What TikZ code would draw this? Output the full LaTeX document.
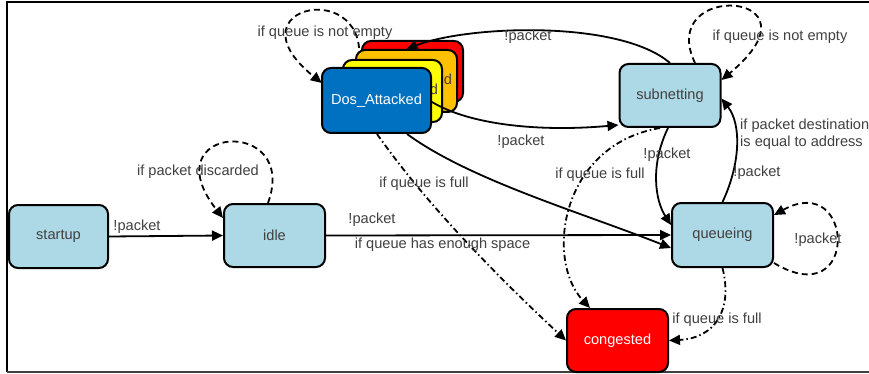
\documentclass[tikz,border=0pt]{standalone}
\usepackage{fontspec}
\setmainfont{Liberation Sans}
\usetikzlibrary{arrows.meta}
\definecolor{statefill}{HTML}{ADD8E6}
\definecolor{dosblue}{HTML}{0070C0}
\definecolor{stackorange}{HTML}{FFC000}
\definecolor{stackyellow}{HTML}{FFFF00}
\definecolor{alarmred}{HTML}{FF0000}
\definecolor{textgray}{HTML}{404040}
\definecolor{framegray}{HTML}{404040}
\tikzset{
  lblfont/.style={font=\fontsize{14.6}{16.5}\selectfont},
  state/.style={draw=black, line width=2pt, rounded corners=9pt, fill=statefill,
    text=textgray, lblfont, inner sep=0pt},
  lbl/.style={text=textgray, lblfont, inner sep=0pt},
  tip/.style={-{Triangle[length=11pt,width=10pt]}},
  solidedge/.style={line width=1.8pt, tip},
  dashedge/.style={line width=1.8pt, tip, dash pattern=on 6pt off 4pt},
  dotedge/.style={line width=1.8pt, tip, dash pattern=on 6pt off 3pt on 1.5pt off 3pt},
}
\begin{document}
\begin{tikzpicture}[x=1pt,y=-1pt]
\useasboundingbox (0,0) rectangle (869,374);
\fill[white] (0,0) rectangle (869,374);

% frame lines
\draw[line width=2.5pt, black] (880,2) -- (7,2) -- (7,372);
\draw[line width=2.5pt, framegray] (7,372) -- (880,372);

% front state of the stack (placed first so its self loop can hide behind the stack)
\path (376.5,100.5) node[minimum width=109pt, minimum height=65pt] (dosref) {};
\draw[dashedge] ([xshift=-18.5pt]dosref.north) .. controls (375,-25) and (225,5) .. ([yshift=17.5pt]dosref.west);

% stacked states behind Dos_Attacked
\node[state, fill=alarmred, minimum width=101pt, minimum height=61pt] (stackred) at (412.5,71.5) {};
\node[state, fill=stackorange, minimum width=101pt, minimum height=62pt] (stackorange) at (406.5,81) {Dos\_Attacked};
\node[state, fill=stackyellow, minimum width=99pt, minimum height=62pt] (stackyellow) at (392.5,91) {Dos\_Attacked};
\node[state, fill=dosblue, text=white, minimum width=109pt, minimum height=65pt] (dos) at (376.5,100.5) {Dos\_Attacked};

% remaining states
\node[state, minimum width=99pt, minimum height=63pt] (startup) at (58.5,236.5) {startup};
\node[state, minimum width=101pt, minimum height=63pt] (idle) at (274.5,235.5) {idle};
\node[state, minimum width=101pt, minimum height=63pt] (subnet) at (670,95.5) {subnetting};
\node[state, minimum width=101pt, minimum height=64pt] (queue) at (722.5,235) {queueing};
\node[state, fill=alarmred, text=white, minimum width=101pt, minimum height=63pt] (cong) at (617.5,340.5) {congested};

% transitions
\draw[solidedge] (startup.east) -- (idle.west);
\draw[dashedge] ([xshift=-6.5pt]idle.north) .. controls (300,115) and (150,125) .. ([yshift=17.5pt]idle.west);
\draw[solidedge] (idle.east) -- (queue.west);
\draw[solidedge] (subnet.north) .. controls (620,20) and (470,25) .. (stackorange.north);
\draw[solidedge] ([yshift=-1.5pt]dos.east) .. controls (470,125) and (540,132) .. ([yshift=-29.5pt]subnet.west);
\draw[solidedge] ([xshift=30.5pt]dos.south) .. controls (470,180) and (580,212) .. ([yshift=-13pt]queue.west);
\draw[dotedge] ([xshift=0.5pt]dos.south) .. controls (420,195) and (480,260) .. (cong.west);
\draw[dotedge] ([xshift=-10pt]subnet.south) .. controls (560,145) and (545,260) .. ([xshift=-27.5pt]cong.north);
\draw[solidedge] ([xshift=-2pt]subnet.south) .. controls (650,165) and (655,200) .. ([yshift=10pt]queue.west);
\draw[solidedge] (queue.north) .. controls (740,165) and (742,125) .. ([yshift=-3pt]subnet.east);
\draw[dashedge] ([yshift=-28pt]queue.east) .. controls (860,315) and (855,170) .. ([yshift=20pt]queue.east);
\draw[dotedge] (queue.south) .. controls (733,310) and (715,338) .. (cong.east);
\draw[dashedge] ([xshift=25pt]subnet.north) .. controls (655,-20) and (830,-10) .. ([yshift=15.5pt]subnet.east);

% transition labels
\node[lbl] (l-startup) at (137,227) {!packet};
\node[lbl] (l-idleloop) at (198,172) {if packet discarded};
\node[lbl] (l-idleq1) at (372,220) {!packet};
\node[lbl] (l-idleq2) at (442.5,245) {if queue has enough space};
\node[lbl] (l-dosloop) at (325,33) {if queue is not empty};
\node[lbl] (l-subdos) at (528,37) {!packet};
\node[lbl] (l-dossub) at (521,142) {!packet};
\node[lbl] (l-doscong) at (424,184) {if queue is full};
\node[lbl] (l-subcong) at (600,175) {if queue is full};
\node[lbl] (l-subq) at (667,155) {!packet};
\node[lbl] (l-qsub) at (757,173) {!packet};
\node[lbl, anchor=west, align=left] (l-dest) at (740,134) {if packet destination\\is equal to address};
\node[lbl] (l-qloop) at (818,240) {!packet};
\node[lbl] (l-qcong) at (717,320) {if queue is full};
\node[lbl] (l-subloop) at (780,37) {if queue is not empty};
\end{tikzpicture}
\end{document}
